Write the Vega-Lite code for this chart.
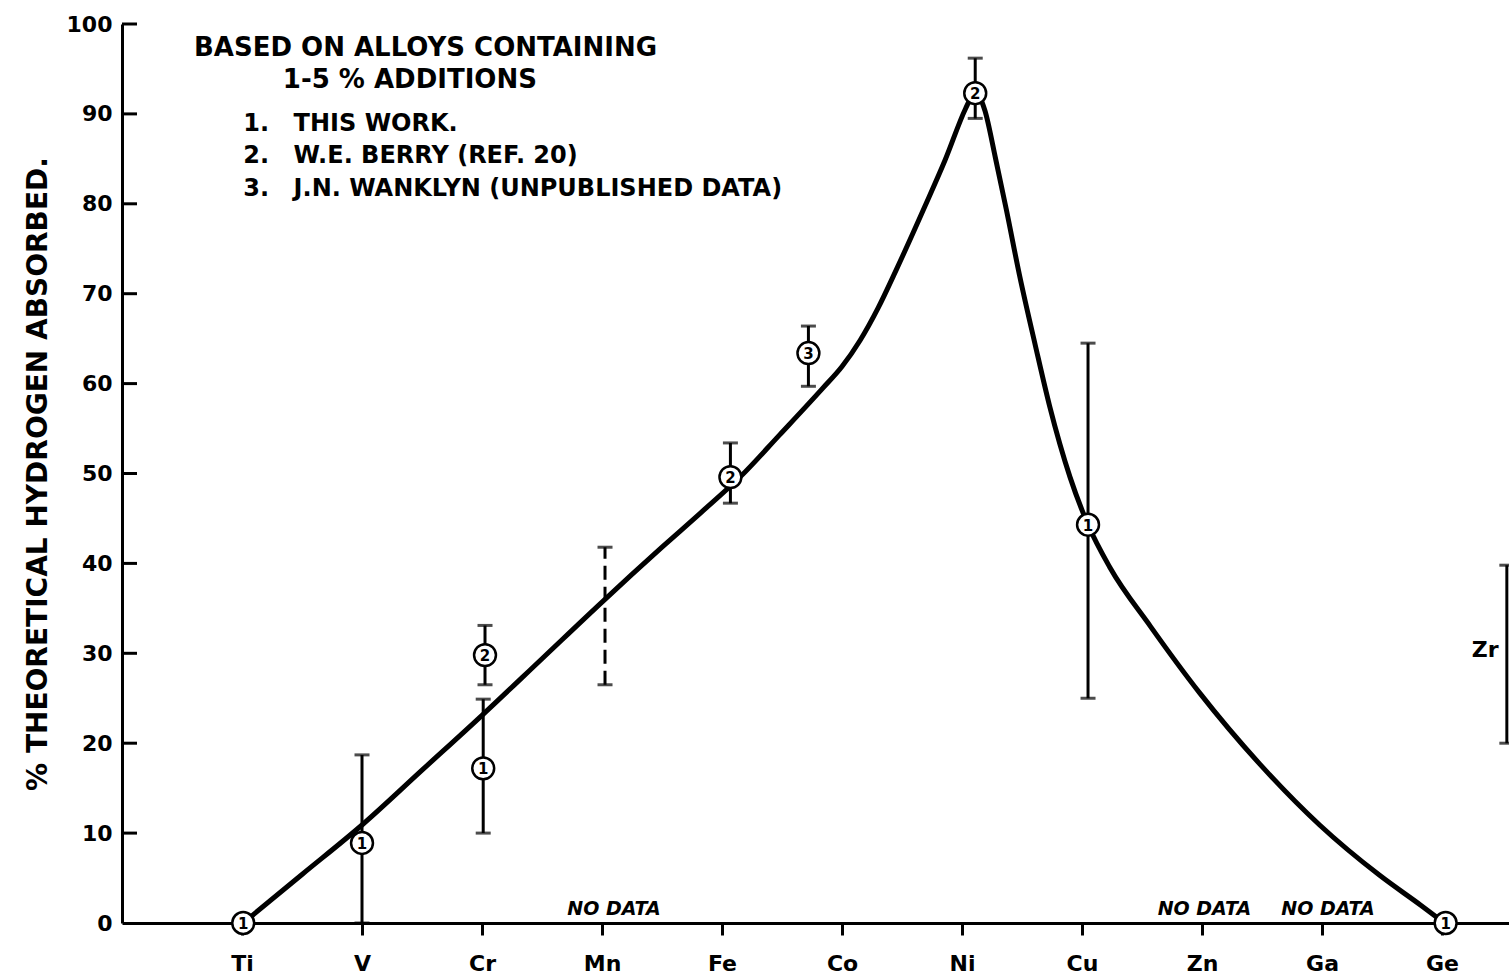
{
  "$schema": "https://vega.github.io/schema/vega-lite/v6.json",
  "width": 1387,
  "height": 899,
  "autosize": "none",
  "padding": {"left": 122, "top": 24, "right": 0, "bottom": 54},
  "background": "white",
  "config": {
    "view": {"stroke": null},
    "font": "DejaVu Sans",
    "axis": {
      "domainColor": "black", "domainWidth": 3, "tickColor": "black", "tickWidth": 3,
      "labelColor": "black", "labelFont": "DejaVu Sans", "labelFontWeight": "bold", "labelFontSize": 22,
      "titleColor": "black", "titleFont": "DejaVu Sans", "titleFontWeight": "bold", "grid": false
    }
  },
  "datasets": {
    "curve": [
      {"x": 1.01, "y": 0}, {"x": 1.5, "y": 5.4}, {"x": 2.0, "y": 10.9}, {"x": 2.5, "y": 17.0},
      {"x": 3.0, "y": 23.1}, {"x": 3.5, "y": 29.4}, {"x": 4.0, "y": 35.7}, {"x": 4.5, "y": 41.8},
      {"x": 4.82, "y": 45.6}, {"x": 5.15, "y": 49.6}, {"x": 5.48, "y": 54.3}, {"x": 5.84, "y": 59.5},
      {"x": 6.0, "y": 61.9}, {"x": 6.15, "y": 64.8}, {"x": 6.3, "y": 68.4}, {"x": 6.45, "y": 72.6},
      {"x": 6.69, "y": 79.7}, {"x": 6.86, "y": 84.9}, {"x": 7.03, "y": 90.6}, {"x": 7.08, "y": 91.9},
      {"x": 7.11, "y": 92.3}, {"x": 7.15, "y": 91.8}, {"x": 7.19, "y": 90.4}, {"x": 7.28, "y": 85.0},
      {"x": 7.37, "y": 79.3}, {"x": 7.48, "y": 72.0}, {"x": 7.61, "y": 64.3}, {"x": 7.73, "y": 57.5},
      {"x": 7.9, "y": 49.6}, {"x": 8.05, "y": 44.3}, {"x": 8.23, "y": 39.6}, {"x": 8.57, "y": 33.0},
      {"x": 8.98, "y": 25.6}, {"x": 9.48, "y": 17.7}, {"x": 9.98, "y": 10.9}, {"x": 10.48, "y": 5.3},
      {"x": 10.82, "y": 2.0}, {"x": 11.02, "y": 0}
    ],
    "bars": [
      {"x": 2.0, "lo": 0, "hi": 18.7, "dash": "solid"},
      {"x": 3.025, "lo": 26.5, "hi": 33.1, "dash": "solid"},
      {"x": 3.01, "lo": 10.0, "hi": 24.9, "dash": "solid"},
      {"x": 4.025, "lo": 26.5, "hi": 41.8, "dash": "dashed"},
      {"x": 5.07, "lo": 46.7, "hi": 53.4, "dash": "solid"},
      {"x": 5.72, "lo": 59.7, "hi": 66.4, "dash": "solid"},
      {"x": 7.11, "lo": 89.5, "hi": 96.2, "dash": "solid"},
      {"x": 8.05, "lo": 25.0, "hi": 64.5, "dash": "solid"},
      {"x": 11.54, "lo": 20.0, "hi": 39.8, "dash": "solid"}
    ],
    "points": [
      {"x": 1.01, "y": 0, "n": "1"}, {"x": 2.0, "y": 8.9, "n": "1"},
      {"x": 3.025, "y": 29.8, "n": "2"}, {"x": 3.01, "y": 17.2, "n": "1"},
      {"x": 5.07, "y": 49.6, "n": "2"}, {"x": 5.72, "y": 63.4, "n": "3"},
      {"x": 7.11, "y": 92.3, "n": "2"}, {"x": 8.05, "y": 44.3, "n": "1"},
      {"x": 11.03, "y": 0, "n": "1"}
    ],
    "yticks": [
      {"y": 10}, {"y": 20}, {"y": 30}, {"y": 40}, {"y": 50},
      {"y": 60}, {"y": 70}, {"y": 80}, {"y": 90}, {"y": 100}
    ],
    "heads": [
      {"x": 0.6, "y": 97.3, "t": "BASED ON ALLOYS CONTAINING"},
      {"x": 1.34, "y": 93.8, "t": "1-5 % ADDITIONS"}
    ],
    "notes": [
      {"x": 1.01, "y": 88.9, "t": "1."},
      {"x": 1.43, "y": 88.9, "t": "THIS WORK."},
      {"x": 1.01, "y": 85.3, "t": "2."},
      {"x": 1.43, "y": 85.3, "t": "W.E. BERRY (REF. 20)"},
      {"x": 1.01, "y": 81.6, "t": "3."},
      {"x": 1.43, "y": 81.6, "t": "J.N. WANKLYN (UNPUBLISHED DATA)"}
    ],
    "nodata": [
      {"x": 4.1, "y": 0.9, "t": "NO DATA"},
      {"x": 9.02, "y": 0.9, "t": "NO DATA"},
      {"x": 10.05, "y": 0.9, "t": "NO DATA"}
    ],
    "zr": [
      {"x": 11.36, "y": 30.4, "t": "Zr"}
    ]
  },
  "layer": [
    {
      "data": {"name": "bars"},
      "mark": {"type": "rule", "strokeWidth": 3, "color": "black"},
      "encoding": {
        "x": {"field": "x", "type": "quantitative",
          "scale": {"domain": [0, 11.558], "nice": false, "zero": false},
          "axis": {"values": [1,2,3,4,5,6,7,8,9,10,11], "tickSize": 12, "labelPadding": 18, "title": null,
            "labelExpr": "['','Ti','V','Cr','Mn','Fe','Co','Ni','Cu','Zn','Ga','Ge'][datum.value]"}},
        "y": {"field": "lo", "type": "quantitative",
          "scale": {"domain": [0, 100], "nice": false},
          "axis": {"values": [0,10,20,30,40,50,60,70,80,90,100], "ticks": false, "labelPadding": 10,
            "title": "% THEORETICAL HYDROGEN ABSORBED.", "titleFontSize": 28, "titleX": -84, "titleY": 449.5,
            "titleBaseline": "middle", "titleAngle": 270}},
        "y2": {"field": "hi"},
        "strokeDash": {"field": "dash", "type": "nominal",
          "scale": {"domain": ["solid", "dashed"], "range": [[1, 0], [14, 7]]}, "legend": null}
      }
    },
    {
      "data": {"name": "bars"},
      "transform": [{"fold": ["lo", "hi"], "as": ["end", "v"]}],
      "mark": {"type": "tick", "orient": "horizontal", "size": 15, "thickness": 3, "color": "black"},
      "encoding": {
        "x": {"field": "x", "type": "quantitative"},
        "y": {"field": "v", "type": "quantitative"}
      }
    },
    {
      "data": {"name": "yticks"},
      "mark": {"type": "rule", "strokeWidth": 3, "color": "black"},
      "encoding": {
        "x": {"datum": 0, "type": "quantitative"},
        "x2": {"datum": 0.125},
        "y": {"field": "y", "type": "quantitative"}
      }
    },
    {
      "data": {"name": "curve"},
      "mark": {"type": "line", "interpolate": "monotone", "strokeWidth": 5, "color": "black"},
      "encoding": {
        "x": {"field": "x", "type": "quantitative"},
        "y": {"field": "y", "type": "quantitative"}
      }
    },
    {
      "data": {"name": "points"},
      "mark": {"type": "point", "shape": "circle", "filled": false, "fill": "white", "fillOpacity": 1, "stroke": "black", "strokeWidth": 2.5, "size": 480, "opacity": 1},
      "encoding": {
        "x": {"field": "x", "type": "quantitative"},
        "y": {"field": "y", "type": "quantitative"}
      }
    },
    {
      "data": {"name": "points"},
      "mark": {"type": "text", "font": "DejaVu Sans", "fontWeight": "bold", "fontSize": 15, "color": "black", "baseline": "middle", "align": "center", "dy": 1},
      "encoding": {
        "x": {"field": "x", "type": "quantitative"},
        "y": {"field": "y", "type": "quantitative"},
        "text": {"field": "n"}
      }
    },
    {
      "data": {"name": "heads"},
      "mark": {"type": "text", "font": "DejaVu Sans", "fontWeight": "bold", "fontSize": 26, "color": "black", "baseline": "middle", "align": "left"},
      "encoding": {
        "x": {"field": "x", "type": "quantitative"},
        "y": {"field": "y", "type": "quantitative"},
        "text": {"field": "t"}
      }
    },
    {
      "data": {"name": "notes"},
      "mark": {"type": "text", "font": "DejaVu Sans", "fontWeight": "bold", "fontSize": 24, "color": "black", "baseline": "middle", "align": "left"},
      "encoding": {
        "x": {"field": "x", "type": "quantitative"},
        "y": {"field": "y", "type": "quantitative"},
        "text": {"field": "t"}
      }
    },
    {
      "data": {"name": "nodata"},
      "mark": {"type": "text", "font": "DejaVu Sans", "fontWeight": "bold", "fontStyle": "italic", "fontSize": 19, "color": "black", "baseline": "alphabetic", "align": "center"},
      "encoding": {
        "x": {"field": "x", "type": "quantitative"},
        "y": {"field": "y", "type": "quantitative"},
        "text": {"field": "t"}
      }
    },
    {
      "data": {"name": "zr"},
      "mark": {"type": "text", "font": "DejaVu Sans", "fontWeight": "bold", "fontSize": 22, "color": "black", "baseline": "middle", "align": "center"},
      "encoding": {
        "x": {"field": "x", "type": "quantitative"},
        "y": {"field": "y", "type": "quantitative"},
        "text": {"field": "t"}
      }
    }
  ]
}
